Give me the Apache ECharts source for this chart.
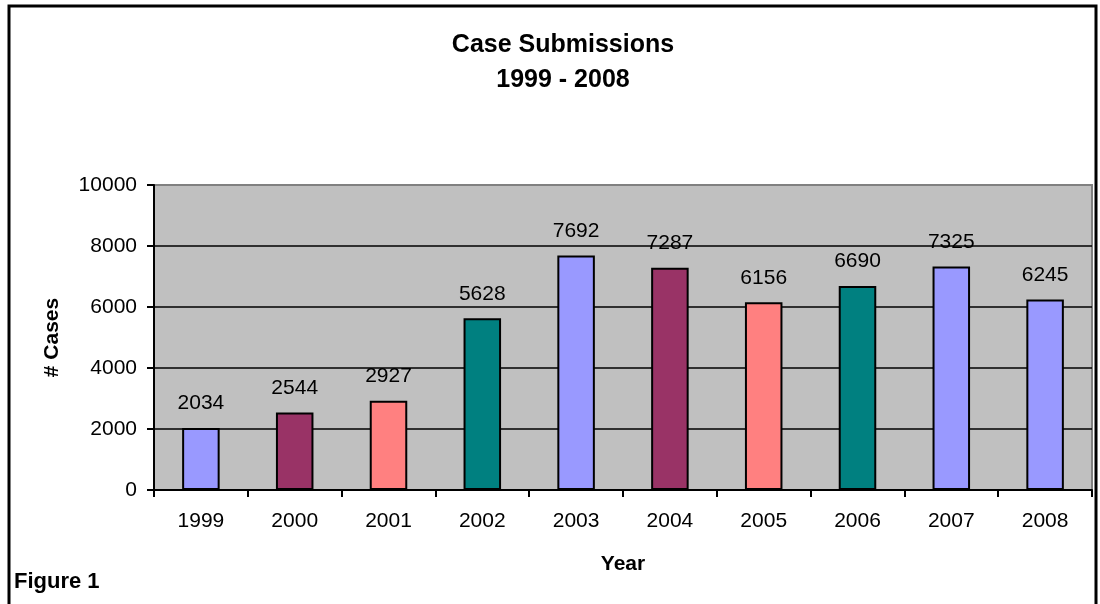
<!DOCTYPE html>
<html>
<head>
<meta charset="utf-8">
<script src="https://cdn.jsdelivr.net/npm/echarts@6/dist/echarts.min.js"></script>
<style>html,body{margin:0;padding:0;background:#fff}#c{width:1100px;height:604px}</style>
</head>
<body>
<div id="c"></div>
<script>
const years = ['1999','2000','2001','2002','2003','2004','2005','2006','2007','2008'];
const cases = [2034, 2544, 2927, 5628, 7692, 7287, 6156, 6690, 7325, 6245];
const barColors = ['#9999FF','#993366','#FF8080','#008080','#9999FF','#993366','#FF8080','#008080','#9999FF','#9999FF'];
const yTicks = {min: 0, max: 10000, interval: 2000};

const FONT = '"Liberation Sans", Arial, sans-serif';
const chart = echarts.init(document.getElementById('c'), null, {renderer: 'canvas'});
chart.setOption({
  animation: false,
  backgroundColor: '#ffffff',
  textStyle: {fontFamily: FONT},
  title: {
    text: 'Case Submissions\n1999 - 2008',
    left: 558, top: 23, textAlign: 'center',
    textStyle: {fontFamily: FONT, fontSize: 25, fontWeight: 'bold', color: '#000', lineHeight: 35}
  },
  grid: {
    left: 154, right: 8, top: 185, bottom: 114,
    show: true, backgroundColor: '#C0C0C0', borderColor: '#808080', borderWidth: 2
  },
  xAxis: {
    type: 'category', data: years,
    name: 'Year', nameLocation: 'middle', nameGap: 64,
    nameTextStyle: {fontFamily: FONT, fontSize: 21, fontWeight: 'bold', color: '#000'},
    axisLine: {lineStyle: {color: '#000', width: 2}},
    axisTick: {show: true, length: 7, lineStyle: {color: '#000', width: 2}},
    axisLabel: {fontFamily: FONT, fontSize: 21, color: '#000', margin: 21},
    splitLine: {show: false}
  },
  yAxis: {
    type: 'value', min: yTicks.min, max: yTicks.max, interval: yTicks.interval,
    name: '# Cases', nameLocation: 'middle', nameGap: 91,
    nameTextStyle: {fontFamily: FONT, fontSize: 21, fontWeight: 'bold', color: '#000'},
    axisLine: {show: true, lineStyle: {color: '#000', width: 2}},
    axisTick: {show: true, length: 7, lineStyle: {color: '#000', width: 2}},
    axisLabel: {fontFamily: FONT, fontSize: 21, color: '#000', margin: 17, formatter: v => String(v)},
    splitLine: {show: true, showMaxLine: false, showMinLine: false, lineStyle: {color: '#000', width: 1.5}}
  },
  series: [{
    type: 'bar',
    barWidth: '40%',
    data: cases.map((v, i) => ({value: v, itemStyle: {color: barColors[i]}})),
    itemStyle: {borderColor: '#000', borderWidth: 2},
    label: {show: true, position: 'top', distance: 14, fontFamily: FONT, fontSize: 21, color: '#000'}
  }],
  graphic: [
    {type: 'rect', shape: {x: 9, y: 6, width: 1087, height: 640}, style: {fill: null, stroke: '#000', lineWidth: 3}, silent: true, z: 100},
    {type: 'text', left: 14, top: 571, style: {text: 'Figure 1', fontFamily: FONT, fontSize: 22, fontWeight: 'bold', fill: '#000'}}
  ]
});
</script>
</body>
</html>
